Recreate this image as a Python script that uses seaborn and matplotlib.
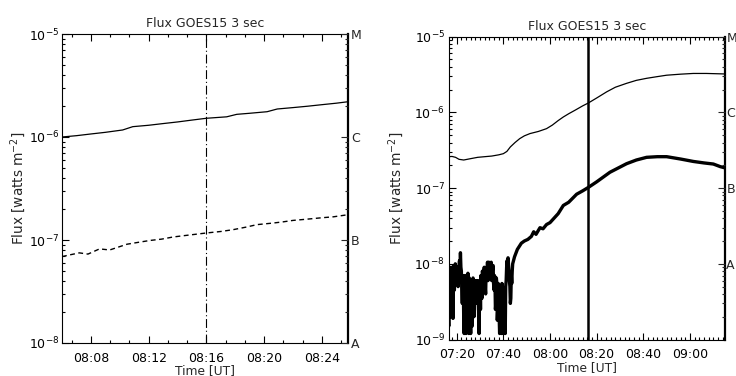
import numpy as np
import pandas as pd
import matplotlib
matplotlib.use("Agg")
import matplotlib.pyplot as plt
import seaborn as sns
from matplotlib.ticker import MultipleLocator, FuncFormatter, LogLocator, NullFormatter, FixedLocator

sns.set_style("ticks")
plt.rcParams['font.family'] = ['DejaVu Sans']
plt.rcParams['mathtext.fontset'] = 'dejavusans'

# ---------------- data ----------------
TITLE = "Flux GOES15 3 sec"
YLABEL = "Flux [watts m$^{-2}$]"
XLABEL = "Time [UT]"
CLASS_LABELS = ["M", "C", "B", "A"]
CLASS_LEVELS = [1e-5, 1e-6, 1e-7, 1e-8]

# left panel: minutes after 08:00
left_t_long = [6.0, 7.0, 8.0, 9.0, 10.2, 10.9, 12.0, 13.0, 14.0, 15.0, 16.0, 17.4, 18.1,
               19.0, 20.2, 20.9, 22.0, 23.0, 24.0, 25.0, 25.8]
left_f_long = [1.00e-6, 1.03e-6, 1.07e-6, 1.11e-6, 1.17e-6, 1.26e-6, 1.30e-6, 1.35e-6, 1.40e-6,
               1.46e-6, 1.52e-6, 1.57e-6, 1.66e-6, 1.70e-6, 1.76e-6, 1.87e-6, 1.93e-6,
               1.99e-6, 2.06e-6, 2.13e-6, 2.20e-6]
left_t_short = [6.0, 6.6, 7.2, 7.8, 8.6, 9.3, 10.5, 11.3, 12.1, 12.9, 13.7, 14.4, 15.1, 16.0,
                17.0, 17.85, 18.7, 19.5, 20.6, 21.3, 22.0, 22.9, 23.9, 24.8, 25.8]
left_f_short = [6.9e-8, 7.2e-8, 7.5e-8, 7.3e-8, 8.2e-8, 8.0e-8, 9.1e-8, 9.5e-8, 9.9e-8, 1.02e-7,
                1.07e-7, 1.10e-7, 1.13e-7, 1.17e-7, 1.21e-7, 1.26e-7, 1.33e-7, 1.41e-7,
                1.46e-7, 1.50e-7, 1.55e-7, 1.59e-7, 1.64e-7, 1.68e-7, 1.76e-7]
left_marker_t = 16.0
left_xlim = (6.0, 25.8)

# right panel: minutes after 07:00
right_t_long = [16.7, 18.0, 19.5, 21.0, 23.0, 26.0, 29.0, 32.0, 35.0, 38.0, 40.0, 41.5, 43.0,
                45.0, 47.0, 49.0, 51.4, 55.0, 58.5, 61.0, 63.5, 65.7, 68.0, 71.0, 74.0, 76.4,
                80.0, 84.3, 88.0, 92.8, 97.0, 101.4, 106.0, 110.0, 116.0, 121.4, 127.0, 135.0]
right_f_long = [2.60e-7, 2.62e-7, 2.55e-7, 2.40e-7, 2.35e-7, 2.45e-7, 2.55e-7, 2.60e-7, 2.65e-7,
                2.75e-7, 2.85e-7, 3.05e-7, 3.50e-7, 4.00e-7, 4.50e-7, 4.90e-7, 5.25e-7, 5.60e-7,
                6.10e-7, 6.80e-7, 7.80e-7, 8.70e-7, 9.60e-7, 1.08e-6, 1.22e-6, 1.33e-6, 1.55e-6,
                1.87e-6, 2.15e-6, 2.42e-6, 2.65e-6, 2.82e-6, 2.97e-6, 3.10e-6, 3.20e-6, 3.27e-6,
                3.27e-6, 3.22e-6]

# noisy early part of the short channel (units of 1e-9 W m^-2), 0.2 min cadence from 16.4
right_noisy_start = 16.4
right_noisy_step = 0.2
right_noisy_vals = [3.0, 1.5, 8.5, 4.0, 2.0, 6.0, 9.0, 3.0, 7.5, 8.5, 1.9, 5.0, 9.5, 4.5,
                    7.0, 10.0, 9.0, 6.0, 5.5, 9.0, 8.5, 5.0, 6.0, 9.0, 11.0, 7.0, 14.0, 9.0,
                    8.0, 5.0, 3.0, 7.0, 6.5, 2.0, 1.2, 6.0, 7.0, 3.0, 1.2, 5.5, 6.0, 2.0,
                    7.5, 3.0, 1.2, 6.5, 5.0, 2.0, 1.2, 5.5, 6.0, 1.5, 4.0, 6.5, 6.0, 2.0,
                    2.5, 6.0, 5.5, 3.0, 6.0, 4.0, 3.0, 5.5, 6.0, 2.0, 1.2, 4.0, 5.0, 2.5,
                    7.0, 5.0, 3.5, 8.0, 7.5, 4.5, 6.5, 9.0, 7.0, 5.0, 4.0, 8.0, 9.0, 7.0,
                    10.5, 6.0, 8.0, 10.5, 10.0, 7.0, 9.0, 10.0, 10.5, 6.0, 7.5, 9.0, 9.5,
                    5.5, 4.5, 7.0, 6.0, 2.5, 3.0, 6.5, 5.5, 1.8, 2.5, 5.5, 5.0, 2.0, 1.2,
                    5.0, 4.5, 2.0, 1.2, 5.5, 5.0, 1.5, 1.2, 4.0, 4.0, 2.0, 1.2, 5.0, 6.0,
                    9.0, 11.0, 7.0, 12.0, 10.0, 8.0, 6.0, 5.0, 3.0, 3.5, 7.0, 5.5, 8.0, 10.0]
right_t_short_tail = [44.8, 46.0, 47.7, 49.0, 50.5, 52.0, 53.0, 54.0, 55.7, 57.0, 58.5, 60.0,
                      61.4, 63.5, 65.7, 68.0, 71.4, 74.0, 76.4, 80.0, 85.7, 92.8, 97.0, 101.4,
                      106.0, 110.0, 116.0, 121.4, 126.0, 130.0, 133.0, 135.0]
right_f_short_tail = [1.24e-8, 1.55e-8, 1.87e-8, 2.00e-8, 2.10e-8, 2.30e-8, 2.65e-8, 2.45e-8,
                      3.00e-8, 2.90e-8, 3.30e-8, 3.50e-8, 3.90e-8, 4.60e-8, 5.90e-8, 6.50e-8,
                      8.30e-8, 9.20e-8, 1.02e-7, 1.21e-7, 1.62e-7, 2.10e-7, 2.35e-7, 2.55e-7,
                      2.60e-7, 2.60e-7, 2.42e-7, 2.25e-7, 2.15e-7, 2.08e-7, 1.92e-7, 1.85e-7]
right_marker_t = 76.4
right_xlim = (16.7, 135.0)

# ---------------- figure ----------------
W, H = 736, 376
FS = 9
fig = plt.figure(figsize=(W / 100, H / 100), dpi=100)

def fpos(l, r, t, b):
    return [l / W, 1 - b / H, (r - l) / W, (b - t) / H]

boxL = (62, 348, 34, 343)
boxR = (449, 725, 36.7, 339.5)
axL = fig.add_axes(fpos(*boxL))
axR = fig.add_axes(fpos(*boxR))

def fmt_left(v, pos):
    m = int(round(v))
    return f"08:{m:02d}"

def fmt_right(v, pos):
    m = int(round(v))
    return f"{7 + m // 60:02d}:{m % 60:02d}"

def class_fmt(v, p):
    i = int(np.argmin([abs(np.log10(c) - np.log10(v)) for c in CLASS_LEVELS]))
    return CLASS_LABELS[i]

def style_axis(ax, box, ylim, xmaj, xmin, fmt, ypad, xpad, ylab_right, xlab_top, cpad):
    l, r, t, b = box
    wpx, hpx = r - l, b - t
    ax.set_yscale("log")
    ax.set_ylim(*ylim)
    ax.xaxis.set_major_locator(MultipleLocator(xmaj))
    ax.xaxis.set_minor_locator(MultipleLocator(xmin))
    ax.xaxis.set_major_formatter(FuncFormatter(fmt))
    ax.yaxis.set_major_locator(LogLocator(base=10, numticks=20))
    ax.yaxis.set_minor_locator(LogLocator(base=10, subs=np.arange(2, 10), numticks=20))
    ax.yaxis.set_minor_formatter(NullFormatter())
    ax.tick_params(which="both", direction="in", top=True, right=False, colors="black",
                   width=0.8, labelsize=FS)
    ax.tick_params(which="major", length=5)
    ax.tick_params(which="minor", length=2.5)
    ax.tick_params(axis="y", which="major", pad=ypad)
    ax.tick_params(axis="x", which="major", pad=xpad)
    for s in ax.spines.values():
        s.set_linewidth(0.8)
        s.set_color("black")
    ax.spines["right"].set_linewidth(1.6)
    ax.set_title(TITLE, fontsize=FS, pad=5)
    ax.set_xlabel(XLABEL, fontsize=8.8, va="top")
    ax.xaxis.set_label_coords(0.5, -(xlab_top - b) / hpx)
    ax.set_ylabel(YLABEL, fontsize=9.8)
    ax.yaxis.set_label_coords(-(l - ylab_right) / wpx, 0.5)
    tw = ax.twinx()
    tw.set_yscale("log")
    tw.set_ylim(*ylim)
    tw.yaxis.set_major_locator(FixedLocator(CLASS_LEVELS))
    tw.yaxis.set_major_formatter(FuncFormatter(class_fmt))
    tw.yaxis.set_minor_locator(LogLocator(base=10, subs=np.arange(2, 10), numticks=20))
    tw.yaxis.set_minor_formatter(NullFormatter())
    tw.tick_params(which="both", direction="in", labelsize=FS, width=0.8, pad=cpad)
    tw.tick_params(which="major", length=5)
    tw.tick_params(which="minor", length=2.5)
    for s in tw.spines.values():
        s.set_visible(False)
    return tw

# left panel
dfL1 = pd.DataFrame({"t": left_t_long, "f": left_f_long})
dfL2 = pd.DataFrame({"t": left_t_short, "f": left_f_short})
sns.lineplot(data=dfL1, x="t", y="f", ax=axL, color="black", lw=0.9, estimator=None, sort=False)
sns.lineplot(data=dfL2, x="t", y="f", ax=axL, color="black", lw=1.0, estimator=None, sort=False,
             linestyle=(0, (3.5, 2.5)))
axL.axvline(left_marker_t, color="black", lw=0.8, linestyle=(0, (8, 2.5, 1, 2.5)))
axL.set_xlim(*left_xlim)
style_axis(axL, boxL, (1e-8, 1e-5), 4, 4 / 3, fmt_left, 2, 6.5, 28, 364, 2)

# right panel
n = len(right_noisy_vals)
t_noisy = [round(right_noisy_start + i * right_noisy_step, 2) for i in range(n)]
f_noisy = [v * 1e-9 for v in right_noisy_vals]
dfR1 = pd.DataFrame({"t": right_t_long, "f": right_f_long})
dfR2 = pd.DataFrame({"t": t_noisy + right_t_short_tail, "f": f_noisy + right_f_short_tail})
sns.lineplot(data=dfR1, x="t", y="f", ax=axR, color="black", lw=0.9, estimator=None, sort=False)
sns.lineplot(data=dfR2, x="t", y="f", ax=axR, color="black", lw=2.4, estimator=None, sort=False)
axR.axvline(right_marker_t, color="black", lw=1.8)
axR.set_xlim(*right_xlim)
style_axis(axR, boxR, (1e-9, 1e-5), 20, 2, fmt_right, 3, 6, 406, 361, 1)

fig.savefig("out.png", dpi=100)
